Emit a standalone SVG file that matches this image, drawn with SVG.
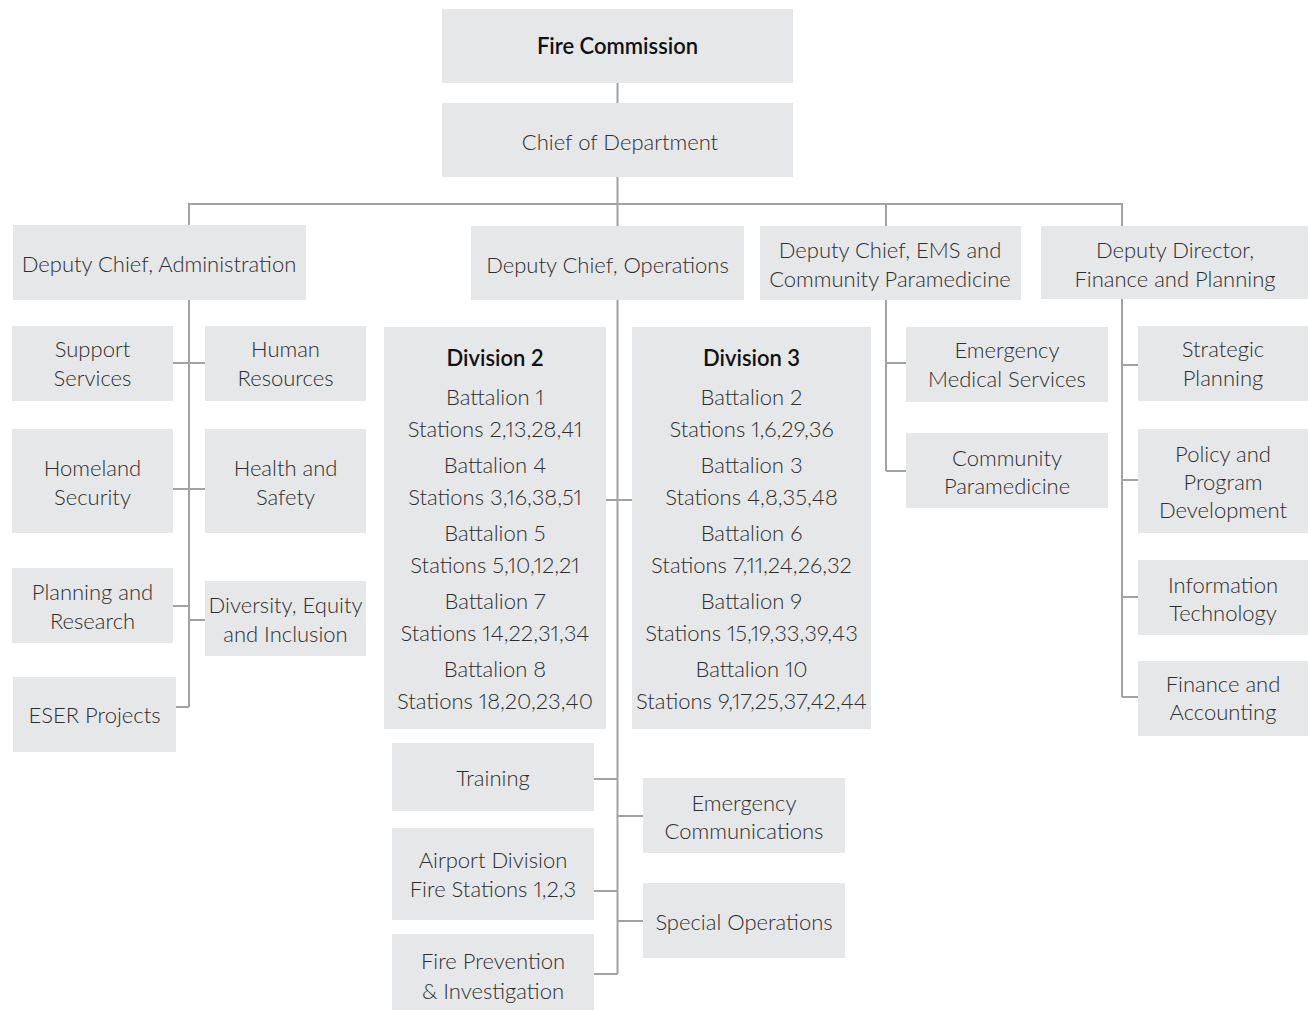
<svg xmlns="http://www.w3.org/2000/svg" width="1308" height="1010" viewBox="0 0 1308 1010">
<style>
.b{fill:#e6e7e8}
.t{font-family:Lato,"Open Sans","Liberation Sans",sans-serif;font-size:22px;font-weight:300;fill:#2e2e2e;text-anchor:middle;font-variant-numeric:proportional-nums;font-feature-settings:"pnum" 1}
.h{font-weight:600;fill:#111}
.c{stroke:#a0a2a5;stroke-width:2;fill:none}
</style>
<rect width="1308" height="1010" fill="#fff"/>
<g id="connectors" class="c">
<path d="M617.5 82V103M617.5 177V226M617.5 300V974M189 225V204H1122V226M886 204V226"/>
<path d="M189 299V707M173 363H205M173 489H205M173 606H189M189 620H205M176 707H189"/>
<path d="M606 500H632M594 779H617.5M617.5 816H643M594 891H617.5M617.5 921H643M594 974H617.5"/>
<path d="M886 300V471M886 363H906M886 471H906"/>
<path d="M1122 299V697M1122 365H1138M1122 480H1138M1122 597H1138M1122 697H1138"/>
</g>
<g id="fire-commission"><rect class="b" x="442" y="9" width="351" height="74"/><text class="t h" x="617.5" y="54">Fire Commission</text></g>
<g id="chief"><rect class="b" x="442" y="103" width="351" height="74"/><text class="t" x="620" y="150">Chief of Department</text></g>
<g id="dc-admin"><rect class="b" x="13" y="225" width="293" height="75"/><text class="t" x="159" y="272">Deputy Chief, Administration</text></g>
<g id="dc-ops"><rect class="b" x="471" y="226" width="273" height="74"/><text class="t" x="607.5" y="273">Deputy Chief, Operations</text></g>
<g id="dc-ems"><rect class="b" x="760" y="226" width="261" height="74"/><text class="t" x="890" y="258">Deputy Chief, EMS and</text><text class="t" x="890" y="287">Community Paramedicine</text></g>
<g id="dd-finance"><rect class="b" x="1041" y="226" width="267" height="73"/><text class="t" x="1175" y="258">Deputy Director,</text><text class="t" x="1175" y="287">Finance and Planning</text></g>

<g id="support"><rect class="b" x="12" y="326" width="161" height="75"/><text class="t" x="92.5" y="357">Support</text><text class="t" x="92.5" y="386">Services</text></g>
<g id="hr"><rect class="b" x="205" y="326" width="161" height="75"/><text class="t" x="285.5" y="357">Human</text><text class="t" x="285.5" y="386">Resources</text></g>
<g id="homeland"><rect class="b" x="12" y="429" width="161" height="104"/><text class="t" x="92.5" y="476">Homeland</text><text class="t" x="92.5" y="505">Security</text></g>
<g id="health"><rect class="b" x="205" y="429" width="161" height="104"/><text class="t" x="285.5" y="476">Health and</text><text class="t" x="285.5" y="505">Safety</text></g>
<g id="planning"><rect class="b" x="12" y="568" width="161" height="75"/><text class="t" x="92.5" y="600">Planning and</text><text class="t" x="92.5" y="629">Research</text></g>
<g id="diversity"><rect class="b" x="205" y="581" width="161" height="75"/><text class="t" x="285.5" y="613">Diversity, Equity</text><text class="t" x="285.5" y="642">and Inclusion</text></g>
<g id="eser"><rect class="b" x="13" y="677" width="163" height="75"/><text class="t" x="94.5" y="723">ESER Projects</text></g>

<g id="division2"><rect class="b" x="384" y="327" width="222" height="402"/>
<text class="t h" x="495" y="366">Division 2</text>
<text class="t" x="495" y="405">Battalion 1</text><text class="t" x="495" y="437">Stations 2,13,28,41</text>
<text class="t" x="495" y="473">Battalion 4</text><text class="t" x="495" y="505">Stations 3,16,38,51</text>
<text class="t" x="495" y="541">Battalion 5</text><text class="t" x="495" y="573">Stations 5,10,12,21</text>
<text class="t" x="495" y="609">Battalion 7</text><text class="t" x="495" y="641">Stations 14,22,31,34</text>
<text class="t" x="495" y="677">Battalion 8</text><text class="t" x="495" y="709">Stations 18,20,23,40</text></g>
<g id="division3"><rect class="b" x="632" y="327" width="239" height="402"/>
<text class="t h" x="751.5" y="366">Division 3</text>
<text class="t" x="751.5" y="405">Battalion 2</text><text class="t" x="751.5" y="437">Stations 1,6,29,36</text>
<text class="t" x="751.5" y="473">Battalion 3</text><text class="t" x="751.5" y="505">Stations 4,8,35,48</text>
<text class="t" x="751.5" y="541">Battalion 6</text><text class="t" x="751.5" y="573">Stations 7,11,24,26,32</text>
<text class="t" x="751.5" y="609">Battalion 9</text><text class="t" x="751.5" y="641">Stations 15,19,33,39,43</text>
<text class="t" x="751.5" y="677">Battalion 10</text><text class="t" x="751.5" y="709">Stations 9,17,25,37,42,44</text></g>
<g id="training"><rect class="b" x="392" y="743" width="202" height="68"/><text class="t" x="493" y="786">Training</text></g>
<g id="emcomm"><rect class="b" x="643" y="778" width="202" height="75"/><text class="t" x="744" y="811">Emergency</text><text class="t" x="744" y="839">Communications</text></g>
<g id="airport"><rect class="b" x="392" y="828" width="202" height="92"/><text class="t" x="493" y="868">Airport Division</text><text class="t" x="493" y="897">Fire Stations 1,2,3</text></g>
<g id="specops"><rect class="b" x="643" y="883" width="202" height="75"/><text class="t" x="744" y="930">Special Operations</text></g>
<g id="fireprev"><rect class="b" x="392" y="934" width="202" height="76"/><text class="t" x="493" y="969">Fire Prevention</text><text class="t" x="493" y="999">&amp; Investigation</text></g>

<g id="ems-med"><rect class="b" x="906" y="327" width="202" height="75"/><text class="t" x="1007" y="358">Emergency</text><text class="t" x="1007" y="387">Medical Services</text></g>
<g id="comm-para"><rect class="b" x="906" y="433" width="202" height="75"/><text class="t" x="1007" y="466">Community</text><text class="t" x="1007" y="494">Paramedicine</text></g>

<g id="strategic"><rect class="b" x="1138" y="326" width="170" height="75"/><text class="t" x="1223" y="357">Strategic</text><text class="t" x="1223" y="386">Planning</text></g>
<g id="policy"><rect class="b" x="1138" y="429" width="170" height="104"/><text class="t" x="1223" y="462">Policy and</text><text class="t" x="1223" y="490">Program</text><text class="t" x="1223" y="518">Development</text></g>
<g id="it"><rect class="b" x="1138" y="560" width="170" height="75"/><text class="t" x="1223" y="593">Information</text><text class="t" x="1223" y="621">Technology</text></g>
<g id="finacc"><rect class="b" x="1138" y="661" width="170" height="75"/><text class="t" x="1223" y="692">Finance and</text><text class="t" x="1223" y="720">Accounting</text></g>
</svg>
